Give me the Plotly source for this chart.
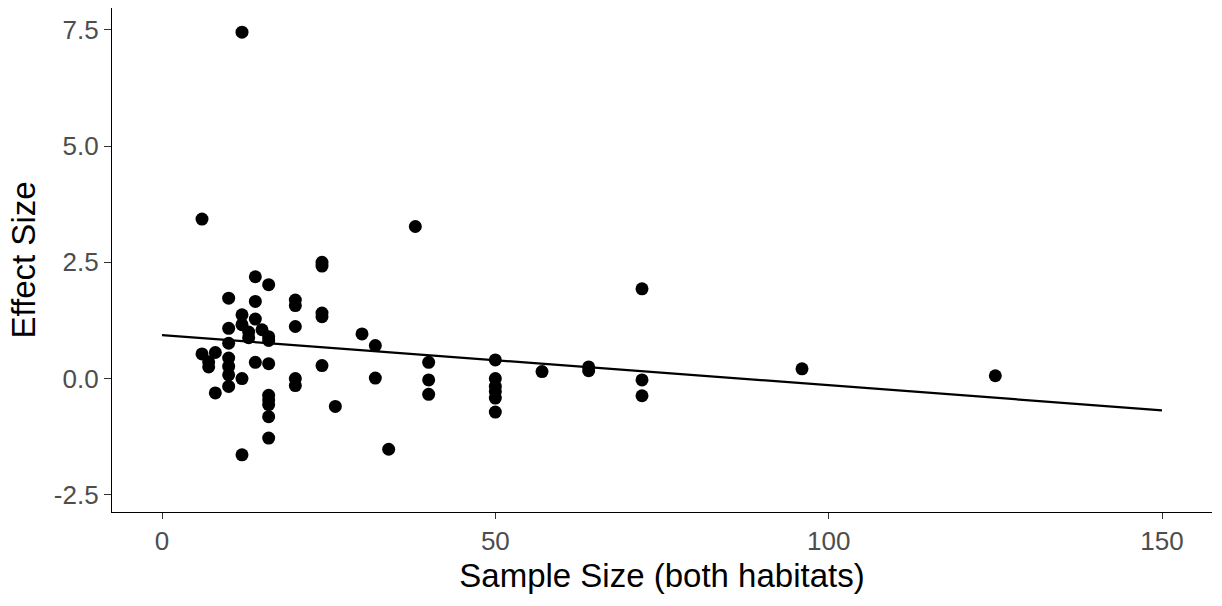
import numpy as np
import plotly.graph_objects as go

# Sample size (both habitats) for each study
sample_size = [
    6, 6, 7, 7, 8, 8,
    10, 10, 10, 10, 10, 10, 10,
    12, 12, 12, 12, 12,
    13, 13,
    14, 14, 14, 14,
    15,
    16, 16, 16, 16, 16, 16, 16, 16, 16,
    20, 20, 20, 20, 20,
    24, 24, 24, 24, 24,
    26, 30, 32, 32, 34, 38,
    40, 40, 40,
    50, 50, 50, 50, 50, 50,
    57, 64, 64, 72, 72, 72, 96, 125,
]

# Effect size for each study
effect_size = [
    3.43, 0.53, 0.36, 0.25, 0.56, -0.31,
    1.73, 1.08, 0.76, 0.44, 0.26, 0.08, -0.17,
    7.45, 1.37, 1.16, 0.00, -1.64,
    1.00, 0.88,
    2.19, 1.66, 1.28, 0.35,
    1.05,
    2.02, 0.90, 0.82, 0.32, -0.36, -0.46, -0.56, -0.82, -1.28,
    1.69, 1.57, 1.12, 0.00, -0.15,
    2.50, 2.42, 1.41, 1.33, 0.28,
    -0.60, 0.96, 0.71, 0.01, -1.52, 3.27,
    0.35, -0.03, -0.34,
    0.40, 0.00, -0.17, -0.28, -0.42, -0.72,
    0.15, 0.25, 0.17, 1.93, -0.03, -0.37, 0.21, 0.06,
]

# Linear trend drawn across the full sample-size span
trend_x = [0, 150]

x_arr = np.array(sample_size, dtype=float)
y_arr = np.array(effect_size, dtype=float)
slope, intercept = np.polyfit(x_arr, y_arr, 1)
trend_y = [intercept + slope * v for v in trend_x]

fig = go.Figure()
fig.add_trace(go.Scatter(
    x=sample_size, y=effect_size, mode="markers",
    marker=dict(color="black", size=13, line=dict(width=0)),
    showlegend=False, hoverinfo="x+y",
))
fig.add_trace(go.Scatter(
    x=trend_x, y=trend_y, mode="lines",
    line=dict(color="black", width=2.2),
    showlegend=False, hoverinfo="skip",
))

tick_font = dict(family="Liberation Sans, Arial, sans-serif", size=26, color="#4D4D4D")
title_font = dict(family="Liberation Sans, Arial, sans-serif", size=33, color="black")

fig.update_layout(
    width=1222, height=606,
    margin=dict(l=112, r=10, t=8, b=94),
    paper_bgcolor="white", plot_bgcolor="white",
    xaxis=dict(
        range=[-7.5, 157.5], tickvals=[0, 50, 100, 150],
        showgrid=False, zeroline=False,
        showline=True, linecolor="black", linewidth=1.3,
        ticks="outside", ticklen=6, tickwidth=1.3, tickcolor="#333333",
        tickfont=tick_font,
        title=dict(text="Sample Size (both habitats)", font=title_font, standoff=8),
    ),
    yaxis=dict(
        range=[-2.87, 7.97], tickvals=[-2.5, 0, 2.5, 5, 7.5],
        ticktext=["-2.5", "0.0", "2.5", "5.0", "7.5"],
        showgrid=False, zeroline=False,
        showline=True, linecolor="black", linewidth=1.3,
        ticks="outside", ticklen=7, tickwidth=1.3, tickcolor="#333333",
        tickfont=tick_font,
        title=dict(text="Effect Size", font=title_font, standoff=8),
    ),
)

fig.write_html("out.html")
